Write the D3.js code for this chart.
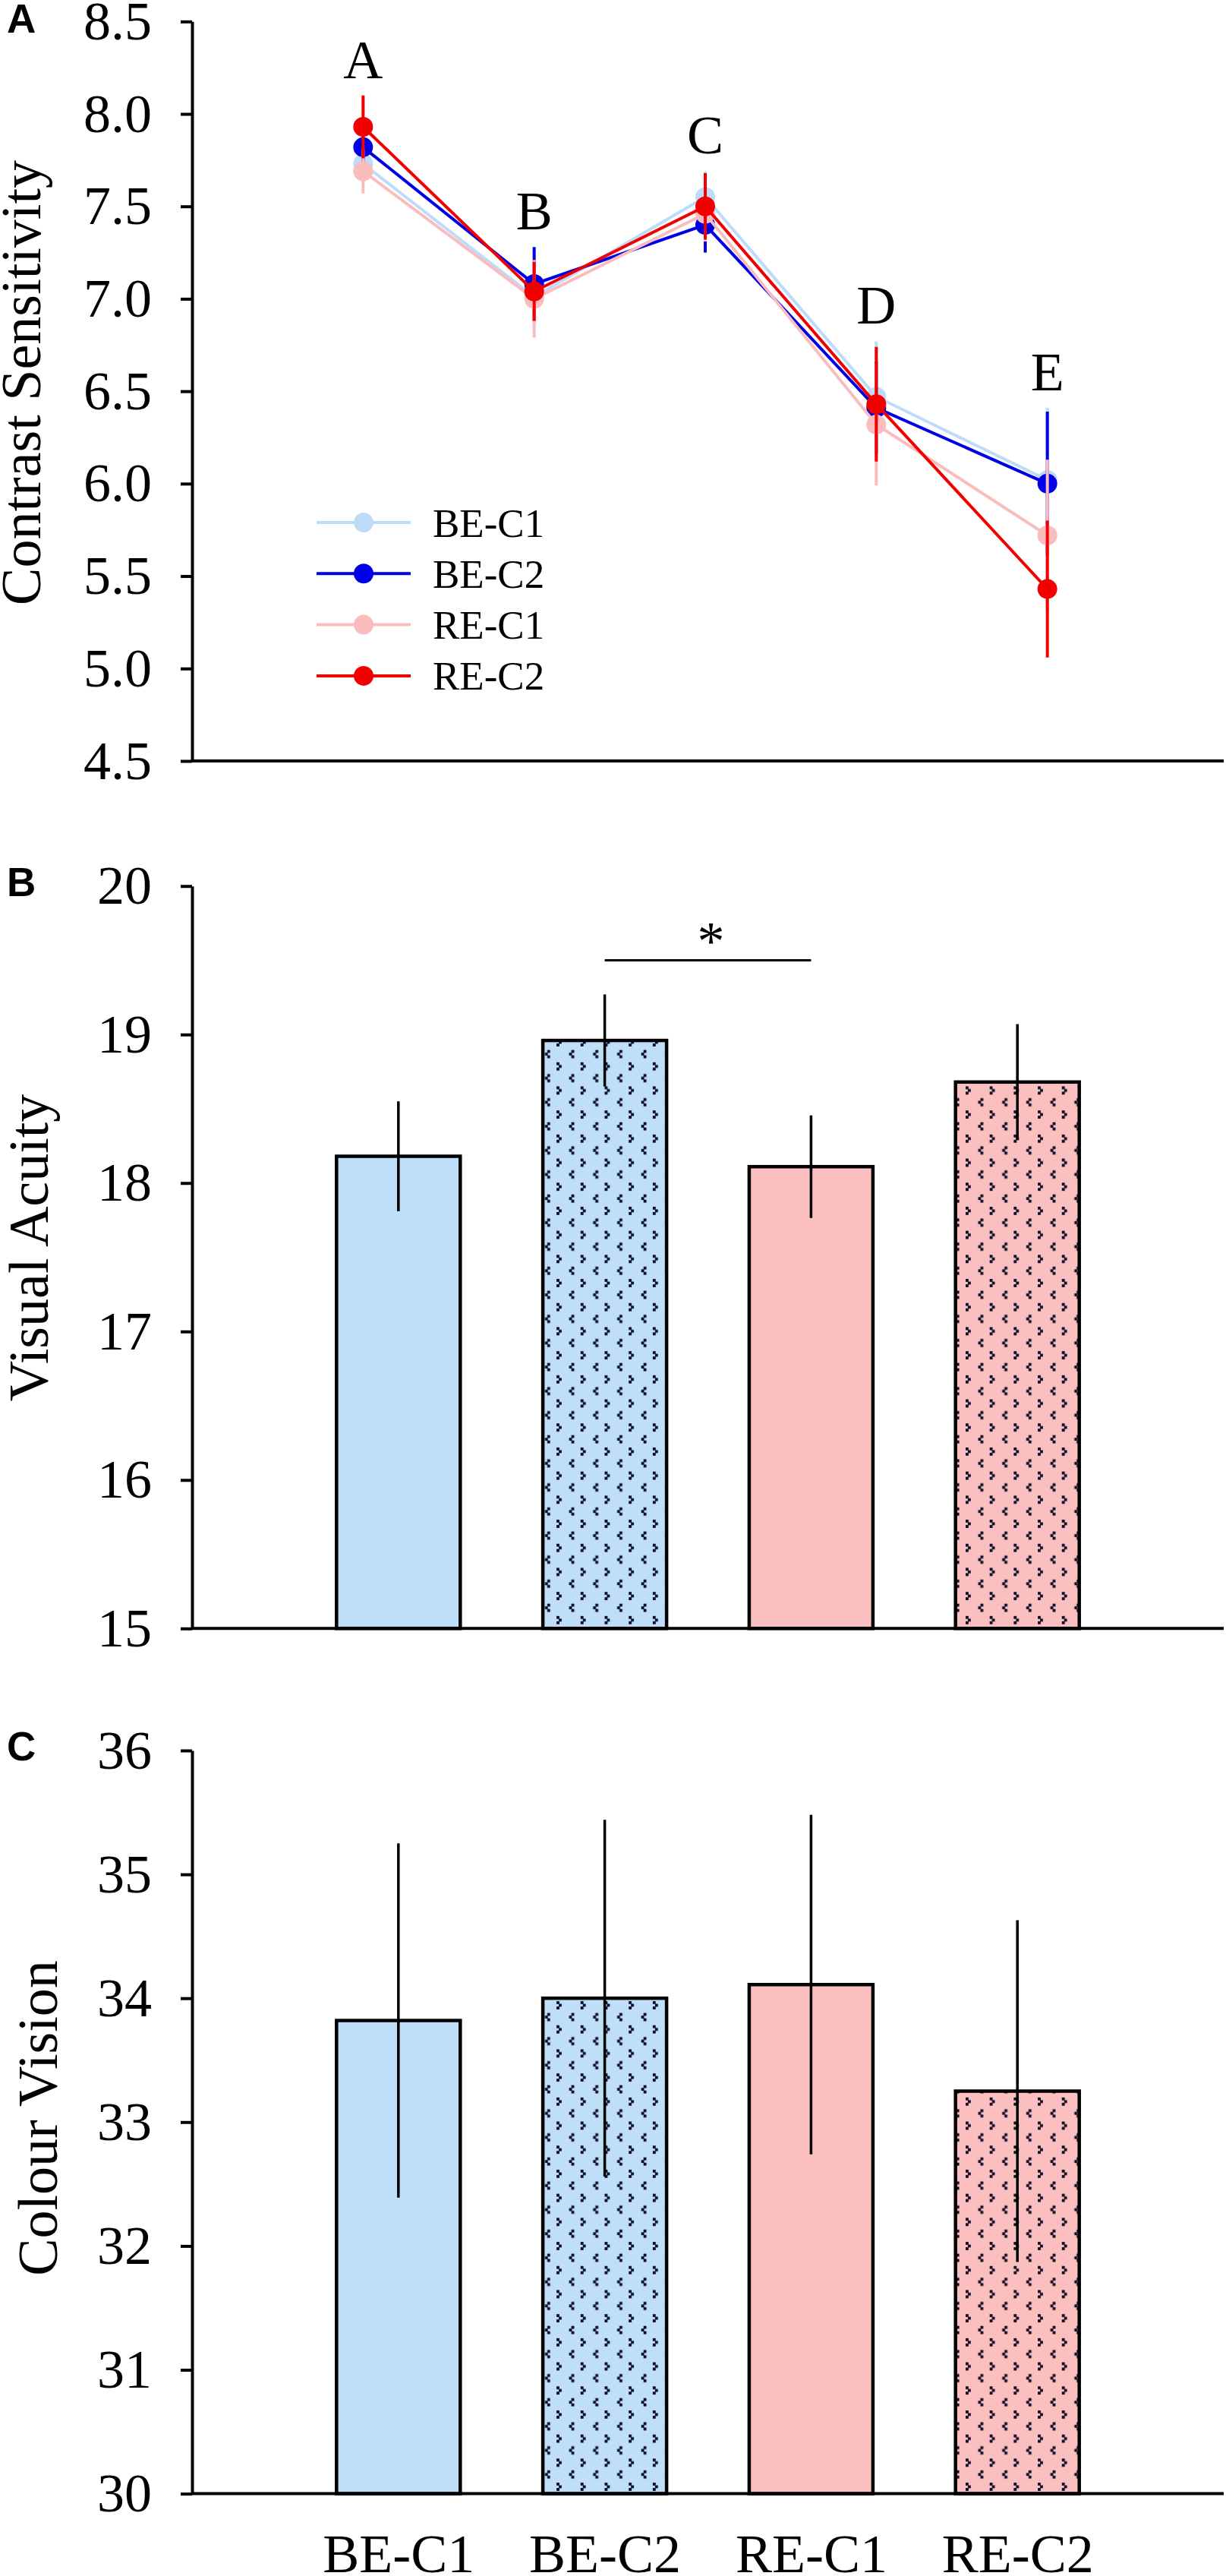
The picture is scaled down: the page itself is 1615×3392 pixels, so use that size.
<!DOCTYPE html>
<html>
<head>
<meta charset="utf-8">
<script src="https://cdn.jsdelivr.net/npm/d3@7"></script>
<style>
  body { margin: 0; background: #fff; }
</style>
</head>
<body>
<div id="chart"></div>
<script>
// Data
const timePoints = ["A", "B", "C", "D", "E"];
const groups = ["BE-C1", "BE-C2", "RE-C1", "RE-C2"];

// Panel A: contrast sensitivity (mean, error) per time point
const csBEC1 = [7.73, 7.01, 7.55, 6.47, 6.02];
const csBEC1Err = [0.10, 0.15, 0.14, 0.30, 0.39];
const csBEC2 = [7.82, 7.08, 7.40, 6.41, 6.00];
const csBEC2Err = [0.10, 0.20, 0.15, 0.25, 0.39];
const csREC1 = [7.69, 7.00, 7.46, 6.32, 5.72];
const csREC1Err = [0.12, 0.21, 0.15, 0.33, 0.41];
const csREC2 = [7.93, 7.04, 7.50, 6.43, 5.43];
const csREC2Err = [0.17, 0.16, 0.18, 0.31, 0.37];
const csTicks = [4.5, 5.0, 5.5, 6.0, 6.5, 7.0, 7.5, 8.0, 8.5];

// Panel B: visual acuity
const vaMeans = [18.18, 18.96, 18.11, 18.68];
const vaErr = [0.37, 0.31, 0.345, 0.39];
const vaTicks = [15, 16, 17, 18, 19, 20];

// Panel C: colour vision
const cvMeans = [33.82, 34.00, 34.11, 33.25];
const cvErr = [1.43, 1.44, 1.37, 1.38];
const cvTicks = [30, 31, 32, 33, 34, 35, 36];

const colors = {
    "BE-C1": "#BDDCF9",
    "BE-C2": "#0000E6",
    "RE-C1": "#FABDBD",
    "RE-C2": "#F20000"
};
const barFill = { "BE-C1": "#BFDEFA", "BE-C2": "#BFDEFA", "RE-C1": "#FBBFBF", "RE-C2": "#FBBFBF" };

const serif = "'Times New Roman','Liberation Serif',serif";
const sans = "Arial,'Liberation Sans',sans-serif";

const W = 1615, H = 3392;
const axisX = 253, plotRight = 1612;

const svg = d3.select("#chart")
    .append("svg")
    .attr("width", W)
    .attr("height", H);

svg.append("rect").attr("width", W).attr("height", H).attr("fill", "#fff");

// patterns for the C2 bars
const defs = svg.append("defs");
[["dotsBlue", barFill["BE-C2"]], ["dotsPink", barFill["RE-C2"]]].forEach(([id, bg]) => {
    const p = defs.append("pattern")
        .attr("id", id)
        .attr("patternUnits", "userSpaceOnUse")
        .attr("width", 31.7)
        .attr("height", 31.7);
    p.append("rect").attr("width", 31.7).attr("height", 31.7).attr("fill", bg);
    // ">" mark
    [[4, 4], [7, 7.5], [4, 11]].forEach(([x, y]) =>
        p.append("rect").attr("x", x).attr("y", y).attr("width", 3.8).attr("height", 3.8).attr("fill", "#0a0a22"));
    // "<" mark
    [[23.5, 19.5], [20.5, 23], [23.5, 26.5]].forEach(([x, y]) =>
        p.append("rect").attr("x", x).attr("y", y).attr("width", 3.8).attr("height", 3.8).attr("fill", "#0a0a22"));
});

function styleAxis(g) {
    g.select(".domain").attr("stroke", "#000").attr("stroke-width", 4);
    g.selectAll(".tick line").attr("stroke", "#000").attr("stroke-width", 4);
    g.selectAll(".tick text")
        .attr("font-family", serif)
        .attr("font-size", 72)
        .attr("fill", "#000");
}

function yTitle(text, x, y) {
    svg.append("text")
        .attr("transform", `translate(${x},${y}) rotate(-90)`)
        .attr("text-anchor", "middle")
        .attr("font-family", serif)
        .attr("font-size", 74)
        .text(text);
}

function panelLabel(text, y) {
    svg.append("text")
        .attr("x", 9)
        .attr("y", y)
        .attr("font-family", sans)
        .attr("font-weight", "bold")
        .attr("font-size", 53)
        .text(text);
}

// ---------------- Panel A ----------------
const yA = d3.scaleLinear().domain([4.5, 8.5]).range([1002, 28.3]);
const xA = d3.scalePoint().domain(timePoints).range([axisX, 1605]).padding(1);

svg.append("g")
    .attr("transform", `translate(${axisX},0)`)
    .call(d3.axisLeft(yA).tickValues(csTicks).tickFormat(d3.format(".1f"))
        .tickSize(15).tickSizeOuter(0).tickPadding(38))
    .call(styleAxis);

svg.append("line")
    .attr("x1", axisX).attr("x2", plotRight)
    .attr("y1", yA(4.5)).attr("y2", yA(4.5))
    .attr("stroke", "#000").attr("stroke-width", 4);

const series = [
    { name: "BE-C1", mean: csBEC1, err: csBEC1Err },
    { name: "BE-C2", mean: csBEC2, err: csBEC2Err },
    { name: "RE-C1", mean: csREC1, err: csREC1Err },
    { name: "RE-C2", mean: csREC2, err: csREC2Err }
];

const line = d3.line()
    .x((d, i) => xA(timePoints[i]))
    .y(d => yA(d));

series.forEach(s => {
    const g = svg.append("g");
    g.append("path")
        .attr("d", line(s.mean))
        .attr("fill", "none")
        .attr("stroke", colors[s.name])
        .attr("stroke-width", 4);

    g.selectAll(".err")
        .data(s.mean)
        .enter()
        .append("line")
        .attr("x1", (d, i) => xA(timePoints[i]))
        .attr("x2", (d, i) => xA(timePoints[i]))
        .attr("y1", (d, i) => yA(d + s.err[i]))
        .attr("y2", (d, i) => yA(d - s.err[i]))
        .attr("stroke", colors[s.name])
        .attr("stroke-width", 4);

    g.selectAll("circle")
        .data(s.mean)
        .enter()
        .append("circle")
        .attr("cx", (d, i) => xA(timePoints[i]))
        .attr("cy", d => yA(d))
        .attr("r", 13)
        .attr("fill", colors[s.name]);
});

// time point letters above the highest error bar
svg.selectAll(".tp")
    .data(timePoints)
    .enter()
    .append("text")
    .attr("x", d => xA(d))
    .attr("y", (d, i) => yA(d3.max(series, s => s.mean[i] + s.err[i])) - 23)
    .attr("text-anchor", "middle")
    .attr("font-family", serif)
    .attr("font-size", 72)
    .text(d => d);

// legend
const legend = svg.append("g").attr("transform", "translate(417,688)");
groups.forEach((name, i) => {
    const row = legend.append("g").attr("transform", `translate(0,${i * 67.3})`);
    row.append("line")
        .attr("x1", 0).attr("x2", 124)
        .attr("stroke", colors[name]).attr("stroke-width", 4);
    row.append("circle").attr("cx", 62).attr("r", 13).attr("fill", colors[name]);
    row.append("text")
        .attr("x", 153).attr("y", 18.5)
        .attr("font-family", serif)
        .attr("font-size", 53)
        .text(name);
});

yTitle("Contrast Sensitivity", 53, 504);
panelLabel("A", 43);

// ---------------- Bar panels ----------------
function barPanel(means, errs, ticks, yRange) {
    const y = d3.scaleLinear().domain(d3.extent(ticks)).range(yRange);
    const x = d3.scalePoint().domain(groups).range([axisX, plotRight]).padding(1);
    const bw = 163;

    svg.append("g")
        .attr("transform", `translate(${axisX},0)`)
        .call(d3.axisLeft(y).tickValues(ticks).tickFormat(d3.format("d"))
            .tickSize(15).tickSizeOuter(0).tickPadding(38))
        .call(styleAxis);

    svg.selectAll(null)
        .data(means)
        .enter()
        .append("rect")
        .attr("x", (d, i) => x(groups[i]) - bw / 2)
        .attr("y", d => y(d))
        .attr("width", bw)
        .attr("height", d => y.range()[0] - y(d))
        .attr("fill", (d, i) => groups[i] === "BE-C2" ? "url(#dotsBlue)"
            : groups[i] === "RE-C2" ? "url(#dotsPink)" : barFill[groups[i]])
        .attr("stroke", "#000")
        .attr("stroke-width", 4.5);

    svg.selectAll(null)
        .data(means)
        .enter()
        .append("line")
        .attr("x1", (d, i) => x(groups[i]))
        .attr("x2", (d, i) => x(groups[i]))
        .attr("y1", (d, i) => y(d + errs[i]))
        .attr("y2", (d, i) => y(d - errs[i]))
        .attr("stroke", "#000")
        .attr("stroke-width", 3.5);

    svg.append("line")
        .attr("x1", axisX).attr("x2", plotRight)
        .attr("y1", y.range()[0]).attr("y2", y.range()[0])
        .attr("stroke", "#000").attr("stroke-width", 4);

    return { x, y };
}

// Panel B
const pB = barPanel(vaMeans, vaErr, vaTicks, [2144.3, 1166.7]);
svg.append("line")
    .attr("x1", pB.x("BE-C2")).attr("x2", pB.x("RE-C1"))
    .attr("y1", pB.y(19.5)).attr("y2", pB.y(19.5))
    .attr("stroke", "#000").attr("stroke-width", 3);
svg.append("text")
    .attr("x", (pB.x("BE-C2") + pB.x("RE-C1")) / 2 + 4)
    .attr("y", pB.y(19.5) - 1)
    .attr("text-anchor", "middle")
    .attr("font-family", serif)
    .attr("font-size", 72)
    .text("*");
yTitle("Visual Acuity", 63, 1643);
panelLabel("B", 1180);

// Panel C
const pC = barPanel(cvMeans, cvErr, cvTicks, [3283.6, 2305]);
svg.append("g")
    .attr("transform", `translate(0,${pC.y.range()[0]})`)
    .call(d3.axisBottom(pC.x).tickSize(0).tickPadding(52))
    .call(g => g.select(".domain").remove())
    .selectAll("text")
    .attr("font-family", serif)
    .attr("font-size", 72)
    .attr("fill", "#000");
yTitle("Colour Vision", 75, 2789);
panelLabel("C", 2318);
</script>
</body>
</html>
